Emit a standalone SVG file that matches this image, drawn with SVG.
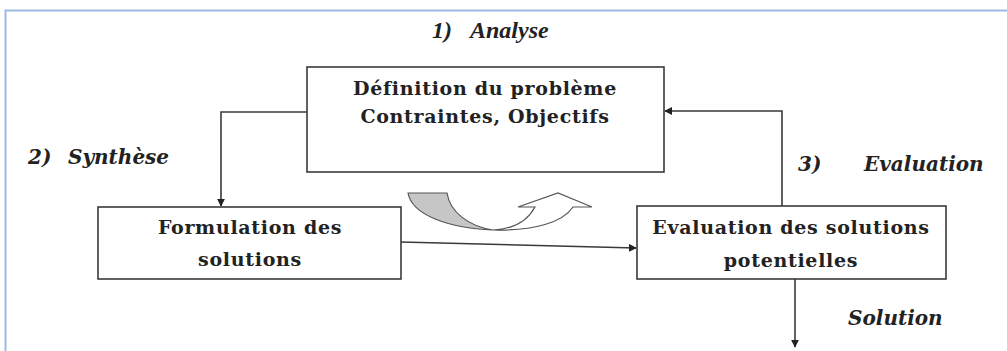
<svg xmlns="http://www.w3.org/2000/svg" width="1007" height="351" viewBox="0 0 1007 351">
<style>
.box{fill:#fff;stroke:#3a3a3a;stroke-width:1.6}
.t{font-family:"DejaVu Serif","Liberation Serif",serif;font-weight:bold;font-size:19px;letter-spacing:0.7px;fill:#222;text-anchor:middle}
.lbl{font-family:"DejaVu Serif","Liberation Serif",serif;font-weight:bold;font-style:italic;font-size:20px;fill:#222}
.lbl2{font-family:"Liberation Serif",serif;font-weight:bold;font-style:italic;font-size:24px;fill:#222}
.c{fill:none;stroke:#3a3a3a;stroke-width:1.6}
</style>
<defs>
<marker id="ah" viewBox="0 0 10 10" refX="9" refY="5" markerWidth="8" markerHeight="8" markerUnits="userSpaceOnUse" orient="auto">
<path d="M0,0 L10,5 L0,10 Z" fill="#222"/>
</marker>
</defs>
<rect x="0" y="0" width="1007" height="351" fill="#fff"/>
<path d="M5.5,351 V10.5 H1007" fill="none" stroke="#9db7e4" stroke-width="2"/>
<text class="lbl2" x="432" y="38">1)</text>
<text class="lbl2" x="470" y="38">Analyse</text>
<text class="lbl" x="28" y="164">2)</text>
<text class="lbl" x="68" y="164">Synthèse</text>
<text class="lbl" x="798" y="171">3)</text>
<text class="lbl" x="864" y="171">Evaluation</text>
<text class="lbl" x="848" y="325">Solution</text>
<g id="connectors">
<path class="c" d="M307,112 H221 V206" marker-end="url(#ah)"/>
<path class="c" d="M782,206 V111 H665" marker-end="url(#ah)"/>
<path class="c" d="M401,242 L636,248" marker-end="url(#ah)"/>
<path class="c" d="M795,279 V347" marker-end="url(#ah)"/>
</g>
<g id="n1">
<rect class="box" x="307" y="67" width="357" height="105"/>
<text class="t" x="485" y="95">Définition du problème</text>
<text class="t" x="485" y="123">Contraintes, Objectifs</text>
</g>
<g id="n2">
<rect class="box" x="98" y="207" width="303" height="72"/>
<text class="t" x="250" y="234">Formulation des</text>
<text class="t" x="250" y="266">solutions</text>
</g>
<g id="n3">
<rect class="box" x="637" y="206" width="309" height="73"/>
<text class="t" x="791" y="234">Evaluation des solutions</text>
<text class="t" x="791" y="267">potentielles</text>
</g>
<g id="curved-arrow">
<path d="M408,193 L447,193 C450,212 468,226 493,230 C448,228 412,215 408,193 Z" fill="#c6c6c6" stroke="#555" stroke-width="1.2"/>
<path d="M493,230 C515,229 528,220 535,207 L518,207 L558,193 L592,207 L573,207 C563,222 535,231 493,230 Z" fill="#fff" stroke="#555" stroke-width="1.2"/>
</g>
</svg>
